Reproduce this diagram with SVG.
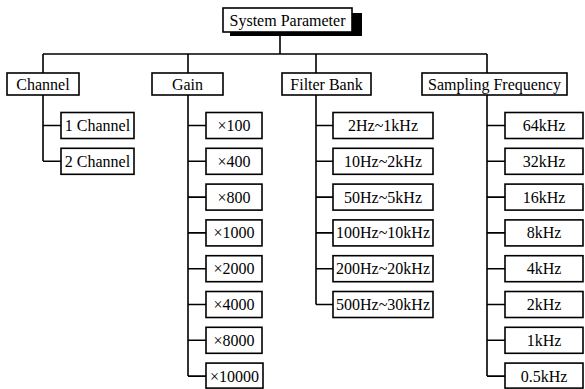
<svg xmlns="http://www.w3.org/2000/svg" width="585" height="389" viewBox="0 0 585 389">
<style>
.b{fill:#fff;stroke:#000;stroke-width:1.6}
.t{font-family:"Liberation Serif","Times New Roman",serif;font-size:16px;text-anchor:middle;fill:#000}
.c{fill:none;stroke:#000;stroke-width:1.6}
</style>
<rect width="585" height="389" fill="#fff"/>
<g id="connectors">
<path class="c" d="M280 35V54M43 54H487M43 54V73M188 54V73M316 54V73M487 54V73"/>
<path class="c" d="M43 95V161M43 125.5H61M43 161.3H61"/>
<path class="c" d="M188 95V376M188 125.5H206M188 161.3H206M188 197.1H206M188 232.9H206M188 268.7H206M188 304.5H206M188 340.3H206M188 376.1H206"/>
<path class="c" d="M316 95V304.5M316 125.5H333M316 161.3H333M316 197.1H333M316 232.9H333M316 268.7H333M316 304.5H333"/>
<path class="c" d="M487 95V376M487 125.5H505M487 161.3H505M487 197.1H505M487 232.9H505M487 268.7H505M487 304.5H505M487 340.3H505M487 376.1H505"/>
</g>
<g id="system-parameter">
<rect x="230" y="13" width="132" height="23" fill="#000"/>
<rect class="b" x="223" y="8" width="129" height="24"/>
<text class="t" x="287.5" y="25.5">System Parameter</text>
</g>
<g id="channel"><rect class="b" x="7" y="73" width="72" height="22"/><text class="t" x="43" y="89.5">Channel</text></g>
<g id="gain"><rect class="b" x="152" y="73" width="71" height="22"/><text class="t" x="187.5" y="89.5">Gain</text></g>
<g id="filter-bank"><rect class="b" x="282" y="73" width="89" height="22"/><text class="t" x="326.5" y="89.5">Filter Bank</text></g>
<g id="sampling-frequency"><rect class="b" x="422" y="73" width="145" height="22"/><text class="t" x="494.5" y="89.5">Sampling Frequency</text></g>

<g id="ch1"><rect class="b" x="61" y="112.5" width="73" height="26"/><text class="t" x="97.5" y="131">1 Channel</text></g>
<g id="ch2"><rect class="b" x="61" y="148.3" width="73" height="26"/><text class="t" x="97.5" y="166.8">2 Channel</text></g>

<g id="g100"><rect class="b" x="206" y="112.5" width="56" height="26"/><text class="t" x="234" y="131">×100</text></g>
<g id="g400"><rect class="b" x="206" y="148.3" width="56" height="26"/><text class="t" x="234" y="166.8">×400</text></g>
<g id="g800"><rect class="b" x="206" y="184.1" width="56" height="26"/><text class="t" x="234" y="202.6">×800</text></g>
<g id="g1000"><rect class="b" x="206" y="219.9" width="56" height="26"/><text class="t" x="234" y="238.4">×1000</text></g>
<g id="g2000"><rect class="b" x="206" y="255.7" width="56" height="26"/><text class="t" x="234" y="274.2">×2000</text></g>
<g id="g4000"><rect class="b" x="206" y="291.5" width="56" height="26"/><text class="t" x="234" y="310">×4000</text></g>
<g id="g8000"><rect class="b" x="206" y="327.3" width="56" height="26"/><text class="t" x="234" y="345.8">×8000</text></g>
<g id="g10000"><rect class="b" x="206" y="363.1" width="57" height="25"/><text class="t" x="234.5" y="381.6">×10000</text></g>

<g id="f1"><rect class="b" x="333" y="112.5" width="100" height="26"/><text class="t" x="383" y="131">2Hz~1kHz</text></g>
<g id="f2"><rect class="b" x="333" y="148.3" width="100" height="26"/><text class="t" x="383" y="166.8">10Hz~2kHz</text></g>
<g id="f3"><rect class="b" x="333" y="184.1" width="100" height="26"/><text class="t" x="383" y="202.6">50Hz~5kHz</text></g>
<g id="f4"><rect class="b" x="333" y="219.9" width="100" height="26"/><text class="t" x="383" y="238.4">100Hz~10kHz</text></g>
<g id="f5"><rect class="b" x="333" y="255.7" width="100" height="26"/><text class="t" x="383" y="274.2">200Hz~20kHz</text></g>
<g id="f6"><rect class="b" x="333" y="291.5" width="100" height="26"/><text class="t" x="383" y="310">500Hz~30kHz</text></g>

<g id="s64"><rect class="b" x="505" y="112.5" width="78" height="26"/><text class="t" x="544" y="131">64kHz</text></g>
<g id="s32"><rect class="b" x="505" y="148.3" width="78" height="26"/><text class="t" x="544" y="166.8">32kHz</text></g>
<g id="s16"><rect class="b" x="505" y="184.1" width="78" height="26"/><text class="t" x="544" y="202.6">16kHz</text></g>
<g id="s8"><rect class="b" x="505" y="219.9" width="78" height="26"/><text class="t" x="544" y="238.4">8kHz</text></g>
<g id="s4"><rect class="b" x="505" y="255.7" width="78" height="26"/><text class="t" x="544" y="274.2">4kHz</text></g>
<g id="s2"><rect class="b" x="505" y="291.5" width="78" height="26"/><text class="t" x="544" y="310">2kHz</text></g>
<g id="s1"><rect class="b" x="505" y="327.3" width="78" height="26"/><text class="t" x="544" y="345.8">1kHz</text></g>
<g id="s05"><rect class="b" x="505" y="363.1" width="78" height="25"/><text class="t" x="544" y="381.6">0.5kHz</text></g>
</svg>
